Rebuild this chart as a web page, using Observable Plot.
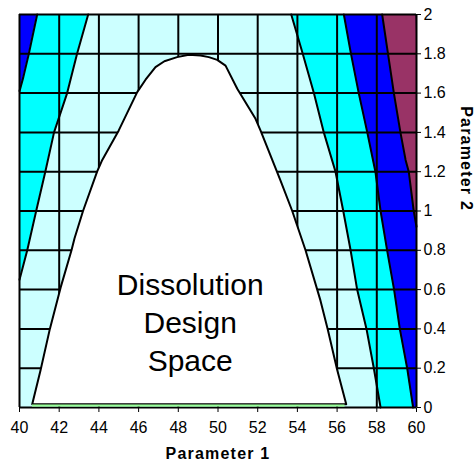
<!DOCTYPE html>
<html>
<head>
<meta charset="utf-8">
<script src="https://cdn.jsdelivr.net/npm/d3@7"></script>
<script src="https://cdn.jsdelivr.net/npm/@observablehq/plot@0.6"></script>
<style>
  body { margin: 0; background: #fff; }
  #chart svg { display: block; }
</style>
</head>
<body>
<div id="chart"></div>
<script>
// Tick values
const xTicks = [40, 42, 44, 46, 48, 50, 52, 54, 56, 58, 60];
const yTicks = [0, 0.2, 0.4, 0.6, 0.8, 1, 1.2, 1.4, 1.6, 1.8, 2];

// Contour boundaries (Parameter 1 as a function of Parameter 2)
const blueLeft = [
  {x: 40.89, y: 2}, {x: 40.47, y: 1.80}, {x: 40.19, y: 1.68}, {x: 40.0, y: 1.61}
];
const cyanLeft = [
  {x: 43.46, y: 2}, {x: 42.9, y: 1.8}, {x: 42.4, y: 1.6}, {x: 41.74, y: 1.4},
  {x: 41.3, y: 1.2}, {x: 40.84, y: 1.0}, {x: 40.39, y: 0.8}, {x: 40.0, y: 0.65}
];
const cyanRight = [
  {x: 53.69, y: 2}, {x: 54.24, y: 1.81}, {x: 54.83, y: 1.6}, {x: 55.33, y: 1.4},
  {x: 55.92, y: 1.2}, {x: 56.31, y: 1.0}, {x: 56.68, y: 0.8}, {x: 57.01, y: 0.6},
  {x: 57.48, y: 0.4}, {x: 57.85, y: 0.2}, {x: 58.19, y: 0}
];
const cyanBlue = [
  {x: 56.34, y: 2}, {x: 56.68, y: 1.81}, {x: 57.09, y: 1.6}, {x: 57.52, y: 1.4},
  {x: 57.93, y: 1.2}, {x: 58.19, y: 1.0}, {x: 58.52, y: 0.8}, {x: 58.87, y: 0.6},
  {x: 59.16, y: 0.4}, {x: 59.53, y: 0.2}, {x: 59.83, y: 0}
];
const blueMaroon = [
  {x: 58.27, y: 2}, {x: 58.55, y: 1.81}, {x: 58.86, y: 1.6}, {x: 59.19, y: 1.4},
  {x: 59.45, y: 1.26}, {x: 59.61, y: 1.2}, {x: 59.86, y: 1.0}, {x: 60.0, y: 0.92}
];
const darkCorner = [
  {x: 59.97, y: 2}, {x: 60.0, y: 1.9}
];

// Design space outline
const designSpace = [
  {x: 40.64, y: 0.016}, {x: 41.06, y: 0.19}, {x: 41.53, y: 0.40}, {x: 42.07, y: 0.61},
  {x: 42.62, y: 0.80}, {x: 42.77, y: 0.86}, {x: 43.2, y: 1.0}, {x: 43.91, y: 1.2},
  {x: 44.17, y: 1.26}, {x: 45.0, y: 1.41}, {x: 45.93, y: 1.605}, {x: 46.35, y: 1.668},
  {x: 46.85, y: 1.732}, {x: 47.3, y: 1.762}, {x: 47.94, y: 1.783}, {x: 48.53, y: 1.795},
  {x: 49.12, y: 1.791}, {x: 49.54, y: 1.783}, {x: 49.96, y: 1.769}, {x: 50.38, y: 1.74},
  {x: 50.97, y: 1.622}, {x: 51.89, y: 1.469}, {x: 52.14, y: 1.41}, {x: 53.15, y: 1.155},
  {x: 53.74, y: 1.0}, {x: 54.41, y: 0.8}, {x: 55.16, y: 0.545}, {x: 55.53, y: 0.397},
  {x: 56.0, y: 0.193}, {x: 56.46, y: 0.016}
];
const greenBand = [{x1: 40.65, x2: 56.4, y1: 0.002, y2: 0.013}];

const labelText = [{x: 48.6, y: 0.44, text: "Dissolution\nDesign\nSpace"}];
const xLabel = ["Parameter 1"];
const yLabel = ["Parameter 2"];

const C = {light: "#ccffff", cyan: "#00ffff", blue: "#0000ff", maroon: "#993366", green: "#99ff99", dark: "#330033"};

const chart = Plot.plot({
  width: 474,
  height: 468,
  marginLeft: 19,
  marginRight: 58,
  marginTop: 14,
  marginBottom: 61,
  style: {fontFamily: "Arial, 'Liberation Sans', sans-serif", fontSize: "16px", color: "black", background: "white"},
  x: {domain: [40, 60], ticks: xTicks, tickSize: 5, tickPadding: 9, tickFormat: d => String(d), label: null},
  y: {domain: [0, 2], axis: "right", ticks: yTicks, tickSize: 4, tickPadding: 3, tickFormat: d => String(+d.toFixed(1)), label: null},
  marks: [
    Plot.frame({fill: C.light, stroke: null}),
    Plot.areaX(cyanLeft, {y: "y", x1: () => 40, x2: "x", fill: C.cyan}),
    Plot.areaX(blueLeft, {y: "y", x1: () => 40, x2: "x", fill: C.blue}),
    Plot.areaX(cyanRight, {y: "y", x1: "x", x2: () => 60, fill: C.cyan}),
    Plot.areaX(cyanBlue, {y: "y", x1: "x", x2: () => 60, fill: C.blue}),
    Plot.areaX(blueMaroon, {y: "y", x1: "x", x2: () => 60, fill: C.maroon}),
    Plot.areaX(darkCorner, {y: "y", x1: "x", x2: () => 60, fill: C.dark}),
    Plot.ruleX(xTicks, {stroke: "#000", strokeWidth: 2}),
    Plot.ruleY(yTicks, {stroke: "#000", strokeWidth: 2}),
    Plot.line(designSpace.concat([designSpace[0]]), {x: "x", y: "y", fill: "white", stroke: "#000", strokeWidth: 2}),
    Plot.rect(greenBand, {x1: "x1", x2: "x2", y1: "y1", y2: "y2", fill: C.green}),
    Plot.line(blueLeft, {x: "x", y: "y", stroke: "#000", strokeWidth: 2}),
    Plot.line(cyanLeft, {x: "x", y: "y", stroke: "#000", strokeWidth: 2}),
    Plot.line(cyanRight, {x: "x", y: "y", stroke: "#000", strokeWidth: 2}),
    Plot.line(cyanBlue, {x: "x", y: "y", stroke: "#000", strokeWidth: 2}),
    Plot.line(blueMaroon, {x: "x", y: "y", stroke: "#000", strokeWidth: 2}),
    Plot.text(labelText, {x: "x", y: "y", text: "text", fontSize: 30, lineHeight: 1.27, fill: "#000"}),
    Plot.text(xLabel, {frameAnchor: "bottom", dy: 51, fontSize: 16, fontWeight: "bold", fill: "#000"}),
    Plot.text(yLabel, {frameAnchor: "right", dx: 49.5, rotate: 90, fontSize: 16, fontWeight: "bold", fill: "#000"})
  ]
});

d3.select(chart).selectAll("text")
  .filter(function() { return this.textContent.startsWith("Parameter"); })
  .style("letter-spacing", "1.2px");

document.getElementById("chart").appendChild(chart);
</script>
</body>
</html>
